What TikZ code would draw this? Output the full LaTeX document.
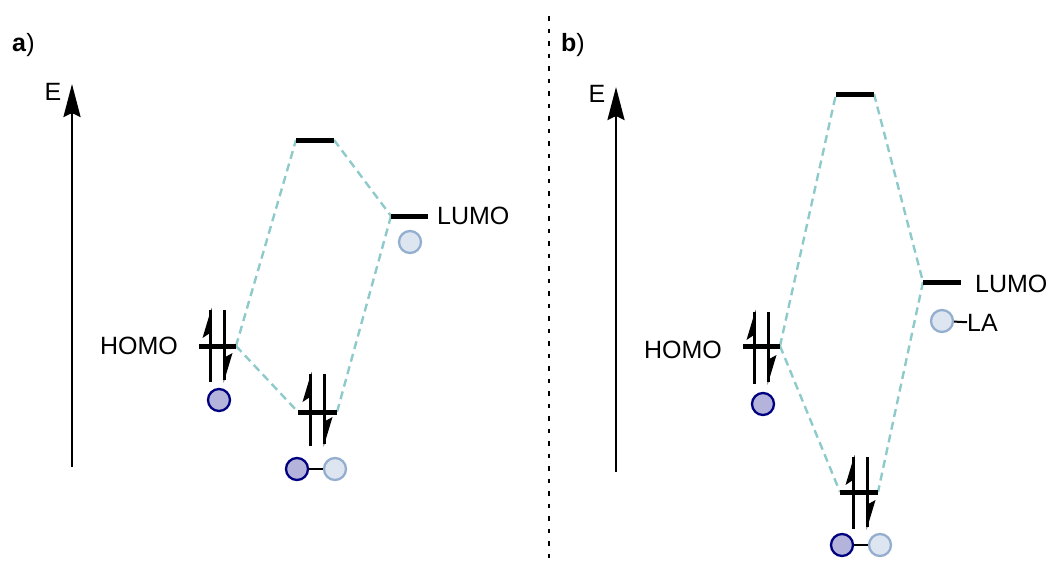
\documentclass[tikz,border=0pt]{standalone}
\usepackage{fontspec}
\setmainfont{Liberation Sans}
\usetikzlibrary{arrows.meta}
\begin{document}
\begin{tikzpicture}[x=1pt,y=-1pt,
  lvl/.style={line width=5pt},
  corr/.style={draw={rgb,255:red,142;green,202;blue,201},line width=2.4pt,dash pattern=on 8pt off 5pt},
  lbl/.style={font=\fontsize{25}{30}\selectfont,inner sep=0pt},
  dorb/.style={circle,minimum size=22pt,inner sep=0pt,draw={rgb,255:red,0;green,0;blue,128},fill={rgb,255:red,179;green,179;blue,219},line width=2.3pt},
  lorb/.style={circle,minimum size=22pt,inner sep=0pt,draw={rgb,255:red,148;green,174;blue,207},fill={rgb,255:red,221;green,229;blue,240},line width=2.3pt},
  eaxis/.style={line width=2.6pt,-{Stealth[length=33pt,width=17pt,inset=4pt]}},
  pics/epair/.style={code={
    \draw[line width=2.8pt] (-7,36) -- (-7,-36);
    \fill (-6,-38) -- (-15,-8) -- (-6,-14) -- cycle;
    \draw[line width=2.8pt] (7,-36) -- (7,34);
    \fill (6,37) -- (15,7) -- (6,12) -- cycle;
  }}]
\useasboundingbox (0,0) rectangle (1051,563);
% divider
\coordinate (d0) at (549,16); \coordinate (d1) at (549,563);
\draw[line width=2.2pt,dash pattern=on 4.5pt off 8pt] (d0) -- (d1);

% ===== panel a =====
\node[lbl,anchor=west] (la) at (12,45) {\textbf{a})};
\coordinate (ea0) at (72,467); \coordinate (ea1) at (72,84);
\draw[eaxis] (ea0) -- (ea1);
\node[lbl] (Ea) at (53,92) {E};
% levels
\coordinate (aTl) at (296,140); \coordinate (aTr) at (334,140);
\coordinate (aLl) at (391,216); \coordinate (aLr) at (428,216);
\coordinate (aHl) at (199,346); \coordinate (aHr) at (236,346);
\coordinate (aBl) at (298,412); \coordinate (aBr) at (337,412);
\draw[corr] (aHr) -- (aTl);
\draw[corr] (aHr) -- (aBl);
\draw[corr] (aTr) -- (aLl);
\draw[corr] (aLl) -- (aBr);
\draw[lvl] (aTl) -- (aTr);
\draw[lvl] (aLl) -- (aLr);
\draw[lvl] (aHl) -- (aHr);
\draw[lvl] (aBl) -- (aBr);
\pic at (217.5,346) {epair};
\pic at (317.5,410) {epair};
\node[lbl,anchor=west] (aLUMO) at (437,216) {LUMO};
\node[lbl,anchor=east] (aHOMO) at (178,346) {HOMO};
\node[lorb] (aLc) at (410,242) {};
\node[dorb] (aHc) at (219,400) {};
\node[dorb] (aB1) at (297,469) {};
\node[lorb] (aB2) at (335,469) {};
\draw[line width=2pt] (aB1) -- (aB2);

% ===== panel b =====
\node[lbl,anchor=west] (lb) at (561,45) {\textbf{b})};
\coordinate (eb0) at (616,472); \coordinate (eb1) at (616,87);
\draw[eaxis] (eb0) -- (eb1);
\node[lbl] (Eb) at (597,94) {E};
\coordinate (bTl) at (836,94); \coordinate (bTr) at (874,94);
\coordinate (bLl) at (923,282); \coordinate (bLr) at (961,282);
\coordinate (bHl) at (743,346); \coordinate (bHr) at (780,346);
\coordinate (bBl) at (840,492); \coordinate (bBr) at (878,492);
\draw[corr] (bHr) -- (bTl);
\draw[corr] (bHr) -- (bBl);
\draw[corr] (bTr) -- (bLl);
\draw[corr] (bLl) -- (bBr);
\draw[lvl] (bTl) -- (bTr);
\draw[lvl] (bLl) -- (bLr);
\draw[lvl] (bHl) -- (bHr);
\draw[lvl] (bBl) -- (bBr);
\pic at (761.5,348) {epair};
\pic at (860.5,493) {epair};
\node[lbl,anchor=west] (bLUMO) at (975,284) {LUMO};
\node[lbl,anchor=east] (bHOMO) at (722,350) {HOMO};
\node[lorb] (bLc) at (942,321) {};
\node[lbl,anchor=west] (bLA) at (967,323) {LA};
\draw[line width=2pt] (bLc) -- (bLA);
\node[dorb] (bHc) at (763,404) {};
\node[dorb] (bB1) at (842,545) {};
\node[lorb] (bB2) at (880,545) {};
\draw[line width=2pt] (bB1) -- (bB2);
\end{tikzpicture}
\end{document}
